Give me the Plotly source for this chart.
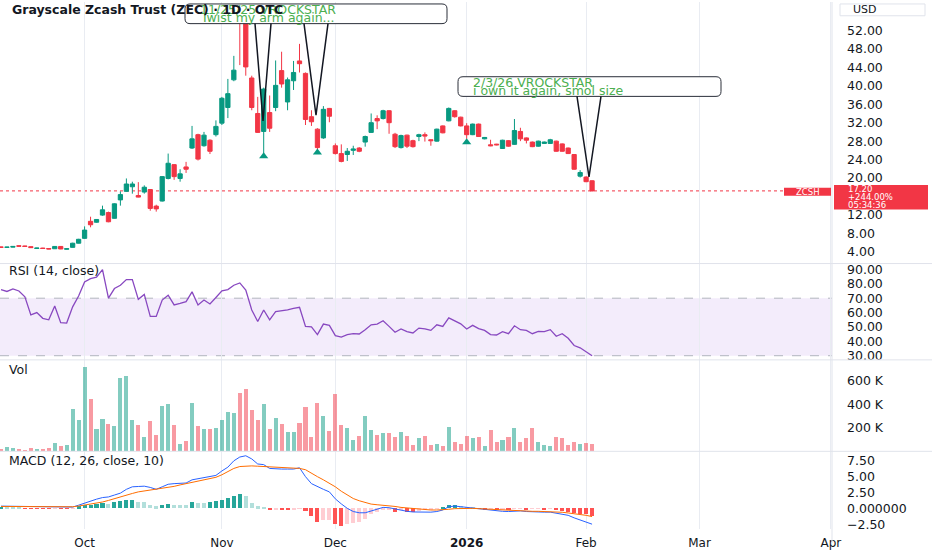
import pandas as pd
import plotly.graph_objects as go
from plotly.subplots import make_subplots

# ---------------- data ----------------
HOLIDAYS = ["2025-11-27", "2025-12-25", "2026-01-01", "2026-01-19", "2026-02-16"]
dates = [d.strftime("%Y-%m-%d") for d in
         pd.bdate_range("2025-09-11", "2026-02-03", freq="C", holidays=HOLIDAYS)]

opens = [5.05, 4.95, 5.0, 5.3, 5.25, 5.1, 4.7, 4.8, 4.7, 4.65, 5.15, 4.55,
         4.95, 5.85, 6.9, 10.6, 10.4, 11.95, 12.5, 11.25,
         15.25, 17.1, 18.1, 16.2, 16.95, 17.5, 13.9, 15.0, 19.9, 22.9,
         19.9, 22.4, 26.5, 29.4, 27.0, 28.2, 29.4, 31.9, 35.3, 41.3,
         57.0, 56.0, 41.7, 34.0, 30.1, 34.2, 35.3, 43.3, 36.5, 41.1,
         45.4, 42.7, 33.3, 30.6, 28.7, 35.1, 27.0, 25.3, 25.1, 26.0,
         26.5, 27.8, 29.9, 32.9, 32.9, 34.6, 29.5, 26.6, 29.3, 28.1,
         29.0, 29.4, 28.3, 28.0, 31.3, 32.4, 34.6, 33.2, 31.3, 29.4,
         31.7, 28.5, 27.2, 27.35, 26.4, 28.1, 27.3, 30.1, 28.7, 27.8,
         26.9, 27.5, 27.5, 28.0, 27.4, 26.5, 25.1, 20.4, 20.2, 19.4]
highs = [5.1, 5.05, 5.2, 5.35, 5.3, 5.15, 4.85, 4.85, 4.75, 5.2, 5.2, 4.7,
         5.95, 6.8, 9.5, 11.6, 11.1, 14.0, 12.7, 14.5,
         17.1, 19.9, 19.2, 19.1, 18.4, 17.6, 14.2, 20.4, 25.3, 23.0,
         21.9, 23.5, 31.3, 29.6, 30.0, 28.4, 32.5, 37.6, 41.5, 46.5,
         57.5, 56.5, 42.2, 37.6, 39.6, 37.9, 45.5, 47.4, 41.8, 45.4,
         49.1, 42.9, 34.7, 30.8, 35.6, 35.2, 27.5, 27.3, 26.5, 27.0,
         26.7, 29.2, 34.0, 33.6, 34.8, 34.7, 29.8, 29.4, 29.4, 28.3,
         29.6, 29.9, 28.4, 30.7, 31.4, 35.3, 34.7, 33.3, 31.9, 31.8,
         31.8, 28.9, 28.3, 27.4, 28.3, 28.2, 32.8, 30.9, 28.8, 27.9,
         28.1, 27.9, 28.5, 28.1, 27.5, 26.6, 25.2, 21.7, 20.4, 19.5]
lows = [4.9, 4.9, 4.95, 5.15, 5.1, 4.85, 4.65, 4.65, 4.55, 4.6, 4.55, 4.5,
        4.9, 5.8, 6.8, 9.3, 10.3, 11.8, 10.4, 11.2,
        14.0, 17.0, 16.6, 15.8, 16.6, 12.9, 12.7, 14.9, 19.7, 19.6,
        19.2, 21.1, 26.3, 23.8, 26.8, 25.2, 29.0, 31.5, 33.0, 41.0,
        44.5, 42.2, 34.7, 29.8, 24.9, 30.0, 34.5, 39.6, 34.7, 39.1,
        42.9, 31.5, 31.3, 26.0, 28.5, 32.1, 25.1, 23.4, 23.7, 25.0,
        25.6, 26.8, 29.8, 30.6, 32.7, 29.6, 26.5, 26.4, 26.5, 26.6,
        28.0, 27.9, 27.0, 27.9, 29.7, 32.3, 33.1, 31.2, 28.5, 29.3,
        28.9, 28.4, 26.9, 27.1, 26.3, 26.8, 27.2, 28.0, 27.5, 26.7,
        26.8, 27.4, 27.4, 25.7, 25.7, 25.2, 21.8, 20.1, 19.1, 17.1]
closes = [4.95, 5.0, 5.15, 5.2, 5.15, 4.9, 4.8, 4.7, 4.6, 5.15, 4.6, 4.65,
          5.85, 6.7, 8.7, 9.85, 11.0, 13.1, 10.5, 14.4,
          16.4, 18.7, 18.7, 15.85, 18.0, 13.4, 13.3, 20.3, 23.2, 20.3,
          20.9, 21.9, 28.5, 24.1, 29.3, 25.8, 31.2, 37.3, 38.3, 43.4,
          54.5, 44.1, 35.3, 29.9, 39.3, 30.8, 40.1, 40.4, 41.3, 42.9,
          44.8, 32.7, 32.2, 26.6, 34.9, 33.4, 25.3, 23.6, 25.8, 26.3,
          25.8, 29.0, 32.0, 32.4, 34.6, 32.0, 26.8, 29.2, 26.9, 26.8,
          29.4, 29.1, 28.1, 30.6, 29.8, 35.1, 33.3, 31.3, 29.4, 31.7,
          29.0, 28.8, 27.0, 27.2, 28.2, 26.9, 30.3, 28.5, 28.2, 26.8,
          28.0, 27.8, 28.3, 25.8, 25.8, 25.3, 21.9, 21.2, 19.2, 17.2]

volume_k = [20, 37, 25, 20, 11, 28, 14, 20, 25, 70,
            39, 48, 360, 268, 724, 445, 192, 276, 231, 217,
            622, 640, 265, 222, 118, 254, 138, 383, 400, 222,
            56, 85, 408, 217, 192, 189, 200, 265, 332, 324,
            493, 532, 352, 265, 400, 192, 287, 234, 163, 163,
            242, 377, 118, 408, 299, 175, 485, 225, 200, 96,
            130, 301, 183, 135, 155, 155, 124, 163, 132, 51,
            113, 127, 51, 56, 42, 203, 73, 62, 127, 115,
            118, 39, 183, 73, 90, 121, 200, 79, 107, 200,
            79, 51, 42, 121, 107, 51, 76, 59, 65, 56]

rsi = [76, 74.7, 76.5, 75, 71, 58.4, 60, 56, 55, 64.6,
       53, 52.7, 64, 71.5, 81.3, 83.6, 84.7, 89.8, 70, 76.7,
       79, 82.9, 82.9, 69.2, 72.6, 57.3, 57.3, 68.7, 72.1, 65.3,
       66.4, 67.6, 74.4, 65.3, 68.7, 66, 70.5, 75.1, 76, 79,
       80.6, 75.6, 61.8, 53.8, 61.8, 55, 60.7, 61.1, 61.8, 63,
       63.7, 50.4, 50, 44.7, 52, 51.1, 44, 43, 44.7, 45.3,
       45.1, 48, 51.5, 52, 54.3, 50.4, 46.3, 48.6, 46.7, 45.8,
       49.2, 48.6, 47.6, 51.5, 50.4, 56.3, 54.5, 52.2, 48.6, 51.1,
       48.8, 47.6, 44.7, 44.4, 46.7, 45.3, 50.8, 48.1, 47.6, 45.3,
       46.9, 46.7, 48.1, 43.5, 45.3, 42.1, 37.1, 35.5, 32.8, 30]

macd = [0.35, 0.34, 0.33, 0.32, 0.3, 0.27, 0.24, 0.2, 0.17, 0.18,
        0.15, 0.13, 0.2, 0.5, 0.85, 1.2, 1.45, 1.7, 1.8, 2.1,
        2.4, 3.0, 3.4, 3.45, 3.5, 3.3, 3.0, 3.4, 3.8, 3.9,
        3.95, 4.0, 4.5, 4.7, 4.85, 5.0, 5.2, 5.9, 6.5, 7.5,
        8.1, 8.3, 7.8, 7.0, 6.9, 6.3, 6.2, 6.2, 6.2, 6.2,
        6.4, 5.0, 3.9, 3.4, 3.0, 2.6, 1.5, 0.7, 0.0, -0.5,
        -0.7, -0.7, -0.4, -0.1, 0.15, 0.1, -0.1, -0.26, -0.47, -0.57,
        -0.6, -0.6, -0.6, -0.5, -0.26, 0.26, 0.36, 0.26, 0.15, 0.1,
        -0.05, -0.2, -0.3, -0.4, -0.47, -0.5, -0.4, -0.4, -0.5, -0.57,
        -0.57, -0.6, -0.6, -0.73, -0.88, -1.1, -1.5, -1.8, -2.2, -2.5]
signal = [0.3, 0.3, 0.3, 0.3, 0.3, 0.3, 0.29, 0.28, 0.26, 0.25,
          0.24, 0.22, 0.25, 0.36, 0.5, 0.67, 0.82, 1.0, 1.25, 1.55,
          1.8, 2.07, 2.35, 2.6, 2.75, 2.85, 2.95, 3.1, 3.3, 3.47,
          3.7, 3.9, 4.1, 4.3, 4.5, 4.66, 4.9, 5.3, 5.8, 6.3,
          6.6, 6.7, 6.7, 6.65, 6.6, 6.55, 6.5, 6.45, 6.4, 6.35,
          6.3, 6.1, 5.5, 5.0, 4.5, 4.0, 3.4, 2.7, 2.1, 1.55,
          1.2, 0.88, 0.67, 0.57, 0.5, 0.4, 0.3, 0.15, 0.05, -0.05,
          -0.15, -0.2, -0.26, -0.26, -0.26, -0.15, -0.05, 0.0, 0.0, 0.0,
          -0.05, -0.1, -0.2, -0.26, -0.3, -0.36, -0.36, -0.36, -0.4, -0.47,
          -0.47, -0.5, -0.5, -0.57, -0.62, -0.73, -0.83, -0.95, -1.1, -1.3]
hist = [0.05, 0.04, 0.03, 0.02, -0.02, -0.05, -0.06, -0.08, -0.1, -0.05,
        -0.1, -0.1, -0.03, 0.26, 0.41, 0.52, 0.62, 0.78, 0.7, 0.93,
        1.14, 1.19, 1.3, 1.0, 0.88, 0.52, 0.26, 0.52, 0.67, 0.55,
        0.5, 0.48, 0.88, 0.78, 0.75, 0.93, 1.04, 1.3, 1.55, 1.9,
        2.17, 1.9, 0.78, 0.26, 0.15, -0.26, -0.2, -0.2, -0.2, -0.18,
        -0.1, -0.5, -1.2, -2.2, -1.9, -1.85, -2.6, -2.8, -2.6, -2.4,
        -2.2, -1.7, -1.0, -0.6, -0.3, -0.25, -0.6, -0.3, -0.55, -0.7,
        -0.45, -0.35, -0.25, -0.15, 0.1, 0.4, 0.5, 0.3, 0.15, 0.05,
        -0.05, -0.2, -0.15, -0.3, -0.2, -0.3, -0.1, -0.05, -0.2, -0.1,
        -0.08, -0.2, -0.15, -0.3, -0.4, -0.6, -0.8, -0.9, -1.0, -1.25]

price_ticks = [4, 8, 12, 20, 24, 28, 32, 36, 40, 44, 48, 52]
rsi_ticks = [30, 40, 50, 60, 70, 80, 90]
vol_ticks = [200000, 400000, 600000]
vol_labels = ["200 K", "400 K", "600 K"]
macd_ticks = [-2.5, 0, 2.5, 5, 7.5]
macd_labels = ["\u22122.50", "0.000000", "2.50", "5.00", "7.50"]
month_ticks = ["2025-10-01", "2025-11-03", "2025-12-01", "2026-01-02",
               "2026-02-02", "2026-03-02", "2026-04-01"]
month_labels = ["Oct", "Nov", "Dec", "<b>2026</b>", "Feb", "Mar", "Apr"]
marker_idx = [44, 53, 78]
marker_price = [24.7, 25.55, 27.75]

# ---------------- style ----------------
UP, DN = "#089981", "#F23645"
TXT = "#131722"
FONT = "DejaVu Sans"
GRID = "#e9ecf2"
SEP = "#e0e3eb"
W, H = 932, 550
ML, MR, MT, MB = 0, 100, 0, 14
PW, PH = W - ML - MR, H - MT - MB


def px(x):
    return x / PW


def py(y):
    return 1 - y / PH


def dom(top, bottom):
    return [1 - bottom / PH, 1 - top / PH]


fig = make_subplots(rows=4, cols=1, shared_xaxes=True, vertical_spacing=0)

fig.add_trace(go.Candlestick(
    x=dates, open=opens, high=highs, low=lows, close=closes,
    increasing=dict(line=dict(color=UP, width=1), fillcolor=UP),
    decreasing=dict(line=dict(color=DN, width=1), fillcolor=DN),
    whiskerwidth=0, showlegend=False, hoverinfo="skip"), row=1, col=1)

fig.add_trace(go.Scatter(
    x=[dates[i] for i in marker_idx], y=marker_price, mode="markers",
    marker=dict(symbol="triangle-up", size=8, color=UP),
    showlegend=False, hoverinfo="skip"), row=1, col=1)

fig.add_trace(go.Scatter(
    x=dates, y=rsi, mode="lines", line=dict(color="#8848c0", width=1.3),
    showlegend=False, hoverinfo="skip"), row=2, col=1)

vol_colors = ["rgba(8,153,129,0.5)" if c >= o else "rgba(242,54,69,0.5)"
              for o, c in zip(opens, closes)]
fig.add_trace(go.Bar(
    x=dates, y=[v * 1000 for v in volume_k], marker=dict(color=vol_colors, line=dict(width=0)),
    width=86400000 * 0.68, showlegend=False, hoverinfo="skip"), row=3, col=1)

hist_colors = []
for i, h in enumerate(hist):
    prev = hist[i - 1] if i > 0 else h
    if h >= 0:
        hist_colors.append("#26A69A" if h >= prev else "#B2DFDB")
    else:
        hist_colors.append("#FFCDD2" if h > prev else "#FF5252")
fig.add_trace(go.Bar(
    x=dates, y=hist, marker=dict(color=hist_colors, line=dict(width=0)),
    width=86400000 * 0.68, showlegend=False, hoverinfo="skip"), row=4, col=1)
fig.add_trace(go.Scatter(
    x=dates, y=macd, mode="lines", line=dict(color="#2962FF", width=1),
    showlegend=False, hoverinfo="skip"), row=4, col=1)
fig.add_trace(go.Scatter(
    x=dates, y=signal, mode="lines", line=dict(color="#FF6D00", width=1),
    showlegend=False, hoverinfo="skip"), row=4, col=1)

# ---------------- axes ----------------
fig.update_xaxes(
    type="date", range=["2025-09-10 20:00", "2026-04-01 04:30"],
    rangebreaks=[dict(bounds=["sat", "mon"]), dict(values=HOLIDAYS)],
    rangeslider_visible=False, tickmode="array", tickvals=month_ticks,
    ticktext=month_labels, showgrid=True, gridcolor=GRID, gridwidth=1,
    showline=False, zeroline=False, ticks="", fixedrange=True,
    tickfont=dict(family=FONT, size=12, color=TXT))
fig.update_xaxes(showticklabels=False, row=1, col=1)
fig.update_xaxes(showticklabels=False, row=2, col=1)
fig.update_xaxes(showticklabels=False, row=3, col=1)
fig.update_xaxes(showticklabels=True, ticklabelstandoff=5, row=4, col=1)

yax = dict(side="right", showgrid=False, zeroline=False, ticks="", showline=False,
           tickfont=dict(family=FONT, size=12.5, color=TXT), ticklabelstandoff=14,
           fixedrange=True)
fig.update_yaxes(**yax)
fig.update_yaxes(domain=dom(0, 266), range=[1.44, 58.19], tickmode="array",
                 tickvals=price_ticks, ticktext=[f"{v:.2f}" for v in price_ticks],
                 row=1, col=1)
fig.update_yaxes(domain=dom(266, 364), range=[27.1, 94.1], tickmode="array",
                 tickvals=rsi_ticks, ticktext=[f"{v:.2f}" for v in rsi_ticks],
                 row=2, col=1)
fig.update_yaxes(domain=dom(364, 457), range=[-4000, 780000], tickmode="array",
                 tickvals=vol_ticks, ticktext=vol_labels, row=3, col=1)
fig.update_yaxes(domain=dom(457, PH), range=[-3.26, 9.0], tickmode="array",
                 tickvals=macd_ticks, ticktext=macd_labels, row=4, col=1)

# ---------------- shapes ----------------
shapes = []
shapes.append(dict(type="rect", xref="x2 domain", yref="y2", x0=0, x1=1, y0=30, y1=70,
                   fillcolor="rgba(150,80,215,0.11)", line=dict(width=0), layer="below"))
for lvl in (70, 30):
    shapes.append(dict(type="line", xref="x2 domain", yref="y2", x0=0, x1=1, y0=lvl, y1=lvl,
                       line=dict(color="#b2b5be", width=1, dash="dash"), layer="below"))
shapes.append(dict(type="line", xref="x domain", yref="y", x0=0, x1=1,
                   y0=closes[-1], y1=closes[-1],
                   line=dict(color=DN, width=1, dash="dot"), layer="below"))
for sy in (266, 364, 457):
    shapes.append(dict(type="line", xref="paper", yref="paper", x0=0, x1=W / PW,
                       y0=py(sy), y1=py(sy), line=dict(color=SEP, width=1)))
shapes.append(dict(type="line", xref="paper", yref="paper", x0=1, x1=1,
                   y0=py(PH + 14), y1=1, line=dict(color=SEP, width=1)))


def bubble(x0, y0, x1, y1, r=5):
    return (f"M {px(x0 + r)},{py(y0)} L {px(x1 - r)},{py(y0)} "
            f"Q {px(x1)},{py(y0)} {px(x1)},{py(y0 + r)} L {px(x1)},{py(y1 - r)} "
            f"Q {px(x1)},{py(y1)} {px(x1 - r)},{py(y1)} L {px(x0 + r)},{py(y1)} "
            f"Q {px(x0)},{py(y1)} {px(x0)},{py(y1 - r)} L {px(x0)},{py(y0 + r)} "
            f"Q {px(x0)},{py(y0)} {px(x0 + r)},{py(y0)} Z")


def tail(xa, xb, ybase, xt, yt):
    return f"M {px(xa)},{py(ybase)} L {px(xt)},{py(yt)} L {px(xb)},{py(ybase)}"


for b in [(185, 2, 447, 22), (458, 76, 721, 96)]:
    shapes.append(dict(type="path", xref="paper", yref="paper", path=bubble(*b),
                       fillcolor="white", line=dict(color="#2a2e39", width=1), layer="above"))
for t in [(255, 271, 22, 263, 121), (304, 328, 22, 316, 115), (577, 601, 96, 589, 178)]:
    shapes.append(dict(type="path", xref="paper", yref="paper", path=tail(*t),
                       line=dict(color="#131722", width=1.5), layer="above"))
shapes.append(dict(type="rect", xref="paper", yref="paper", x0=px(840), x1=px(925),
                   y0=py(14), y1=py(2), fillcolor="white", line=dict(color=SEP, width=1)))
shapes.append(dict(type="rect", xref="paper", yref="paper", x0=px(834), x1=px(928),
                   y0=py(211), y1=py(186), fillcolor=DN, line=dict(width=0)))
shapes.append(dict(type="rect", xref="paper", yref="paper", x0=px(784), x1=px(831),
                   y0=py(197), y1=py(189), fillcolor=DN, line=dict(width=0)))

# ---------------- annotations ----------------
ann = []


def text(x, y, s, size=11, color=TXT, xanchor="left", bold=False):
    ann.append(dict(xref="paper", yref="paper", x=px(x), y=py(y), text=s, showarrow=False,
                    xanchor=xanchor, yanchor="middle", borderpad=0,
                    font=dict(family=FONT, size=size, color=color,
                              weight="bold" if bold else "normal")))


GREEN = "#4CAF50"
text(199, 7.5, "11/25/25 VROCKSTAR", 12.5, GREEN)
text(199, 16, "Twist my arm again...", 12.5, GREEN)
text(472, 81.5, "2/3/26 VROCKSTAR", 12.5, GREEN)
text(472, 90, "i own it again, smol size", 12.5, GREEN)
text(11, 7.5, "Grayscale Zcash Trust (ZEC) · 1D · OTC", 12.5, TXT, bold=True)
text(8, 273, "RSI (14, close)", 12.5)
text(8, 374, "Vol", 12.5)
text(8, 466, "MACD (12, 26, close, 10)", 12.5)
text(865, 8, "USD", 11, TXT, xanchor="center")
text(847, 190.5, f"{closes[-1]:.2f}", 8.5, "white")
text(847, 198.5, "+244.00%", 8.5, "white")
text(847, 206.5, "05:34:36", 8.5, "white")
text(807.5, 193, "ZCSH", 8.5, "white", xanchor="center")

fig.update_layout(
    width=W, height=H, margin=dict(l=ML, r=MR, t=MT, b=MB),
    paper_bgcolor="white", plot_bgcolor="white", showlegend=False,
    hovermode=False, boxgap=0.25, boxgroupgap=0.05, bargap=0,
    shapes=shapes, annotations=ann, dragmode=False,
    font=dict(family=FONT, color=TXT))

fig.write_html("out.html", config={"displayModeBar": False},
               post_script="document.body.style.margin='0';")
